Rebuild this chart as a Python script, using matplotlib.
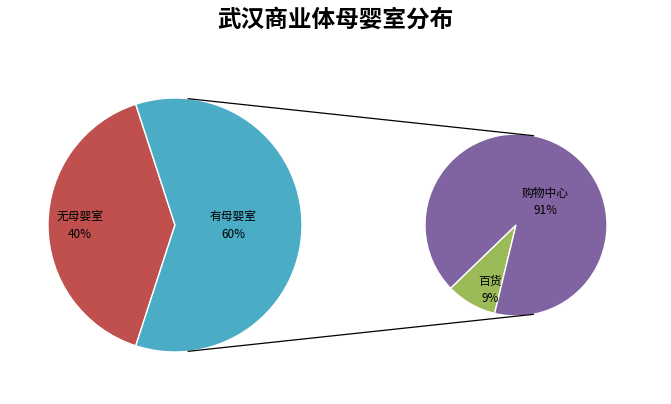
import matplotlib
matplotlib.use("Agg")
import matplotlib.pyplot as plt
import numpy as np

plt.rcParams['font.family'] = ['Noto Sans CJK SC', 'DejaVu Sans']

title = "武汉商业体母婴室分布"
main_labels = ["无母婴室", "有母婴室"]
main_values = [40, 60]
sub_labels = ["百货", "购物中心"]
sub_values = [9, 91]

fig = plt.figure(figsize=(6.71, 4.04), dpi=100)
ax = fig.add_axes([0, 0, 1, 1])

c1, r1 = (175, 179), 127
c2, r2 = (516, 179), 91
ax.pie(main_values, colors=["#C0504D", "#4BACC6"], startangle=108, center=c1, radius=r1,
       wedgeprops=dict(edgecolor='white', linewidth=1), frame=True)
ax.pie(sub_values, colors=["#9BBB59", "#8064A2"], startangle=224, center=c2, radius=r2,
       wedgeprops=dict(edgecolor='white', linewidth=1), frame=True)
ax.set_xlim(0, 671); ax.set_ylim(0, 404); ax.set_aspect('equal'); ax.axis('off')

for a1, a2 in [(84, 79), (-84, -79)]:
    p1 = (c1[0] + r1*np.cos(np.radians(a1)), c1[1] + r1*np.sin(np.radians(a1)))
    p2 = (c2[0] + r2*np.cos(np.radians(a2)), c2[1] + r2*np.sin(np.radians(a2)))
    ax.plot([p1[0], p2[0]], [p1[1], p2[1]], color='black', lw=0.9)

ax.text(80, 179, f"{main_labels[0]}\n{main_values[0]}%", ha='center', va='center', fontsize=8.5, linespacing=1.5)
ax.text(233, 179, f"{main_labels[1]}\n{main_values[1]}%", ha='center', va='center', fontsize=8.5, linespacing=1.5)
ax.text(545, 202, f"{sub_labels[1]}\n{sub_values[1]}%", ha='center', va='center', fontsize=8.5, linespacing=1.5)
ax.text(490, 114, f"{sub_labels[0]}\n{sub_values[0]}%", ha='center', va='center', fontsize=8.5, linespacing=1.5)
ax.text(335.5, 384, title, ha='center', va='center', fontsize=17, fontweight='bold')

fig.savefig("out.png", dpi=100)
